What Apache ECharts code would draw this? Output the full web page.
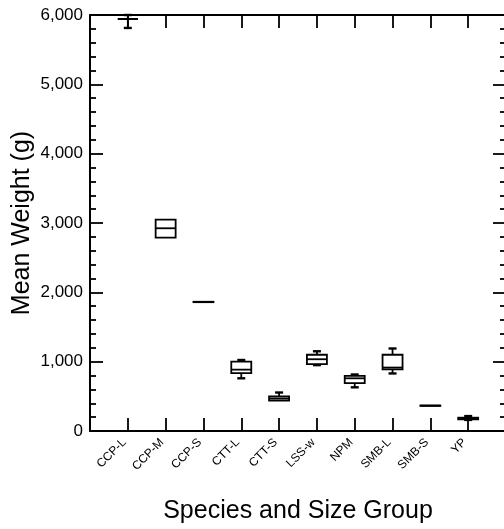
<!DOCTYPE html>
<html>
<head>
<meta charset="utf-8">
<script src="https://cdn.jsdelivr.net/npm/echarts@6/dist/echarts.min.js"></script>
<style>
html,body{margin:0;padding:0;background:#fff;}
#chart{width:504px;height:529px;}
</style>
</head>
<body>
<div id="chart"></div>
<script>
var categories = ['CCP-L','CCP-M','CCP-S','CTT-L','CTT-S','LSS-w','NPM','SMB-L','SMB-S','YP'];
var mins    = [5813, 2789, 1855,  760, 440,  950, 630,  830, 360, 160];
var q1s     = [5942, 2789, 1858,  835, 440,  965, 690,  890, 362, 168];
var medians = [5942, 2924, 1861,  885, 470, 1035, 760,  915, 365, 180];
var q3s     = [5942, 3048, 1864, 1000, 500, 1100, 795, 1100, 368, 192];
var maxs    = [6000, 3048, 1867, 1024, 555, 1150, 815, 1190, 370, 215];
var yTicks  = [0, 1000, 2000, 3000, 4000, 5000, 6000];

var data = categories.map(function (c, i) {
  return [i + 1, mins[i], q1s[i], medians[i], q3s[i], maxs[i]];
});

var FONT = 'Liberation Sans, Arial, sans-serif';
var BOX_W = 20, CAP_W = 8;

function renderItem(params, api) {
  var x = api.value(0);
  var pMin = api.coord([x, api.value(1)]);
  var pQ1 = api.coord([x, api.value(2)]);
  var pMed = api.coord([x, api.value(3)]);
  var pQ3 = api.coord([x, api.value(4)]);
  var pMax = api.coord([x, api.value(5)]);
  var cx = pMed[0];
  var st = {stroke: '#000', lineWidth: 1.8, fill: null};
  var children = [];
  children.push({type: 'rect', shape: {x: cx - BOX_W / 2, y: pQ3[1], width: BOX_W, height: pQ1[1] - pQ3[1]},
    style: {stroke: '#000', lineWidth: 1.8, fill: '#fff'}});
  children.push({type: 'line', shape: {x1: cx - BOX_W / 2, y1: pMed[1], x2: cx + BOX_W / 2, y2: pMed[1]}, style: st});
  if (pMax[1] < pQ3[1] - 0.5) {
    children.push({type: 'line', shape: {x1: cx, y1: pQ3[1], x2: cx, y2: pMax[1]}, style: st});
    children.push({type: 'line', shape: {x1: cx - CAP_W / 2, y1: pMax[1], x2: cx + CAP_W / 2, y2: pMax[1]}, style: {stroke: '#000', lineWidth: 2.4}});
  }
  if (pMin[1] > pQ1[1] + 0.5) {
    children.push({type: 'line', shape: {x1: cx, y1: pQ1[1], x2: cx, y2: pMin[1]}, style: st});
    children.push({type: 'line', shape: {x1: cx - CAP_W / 2, y1: pMin[1], x2: cx + CAP_W / 2, y2: pMin[1]}, style: {stroke: '#000', lineWidth: 2.4}});
  }
  return {type: 'group', children: children};
}

var axisLine = {show: true, onZero: false, lineStyle: {color: '#000', width: 2}};
var chart = echarts.init(document.getElementById('chart'), null, {renderer: 'canvas'});
chart.setOption({
  backgroundColor: '#fff',
  animation: false,
  grid: {left: 90, top: 15, width: 416, height: 416, containLabel: false, outerBoundsMode: 'none'},
  xAxis: [{
    type: 'value', min: 0, max: categories.length + 1, interval: 1,
    position: 'bottom',
    name: 'Species and Size Group', nameLocation: 'middle', nameGap: 68, nameMoveOverlap: false,
    nameTextStyle: {fontFamily: FONT, fontSize: 25, color: '#000'},
    axisLine: axisLine,
    axisTick: {show: true, inside: true, length: 13, lineStyle: {color: '#000', width: 1.8}},
    axisLabel: {rotate: 45, margin: 6, padding: [0, 5, 0, 0], fontFamily: FONT, fontSize: 12, color: '#000',
      formatter: function (v) { return categories[v - 1] || ''; }},
    splitLine: {show: false}
  }, {
    type: 'value', min: 0, max: categories.length + 1, interval: 1,
    position: 'top',
    axisLine: axisLine,
    axisTick: {show: true, inside: true, length: 13, lineStyle: {color: '#000', width: 1.8}},
    axisLabel: {show: false},
    splitLine: {show: false}
  }],
  yAxis: [{
    type: 'value', min: 0, max: 6000, interval: 1000,
    position: 'left',
    name: 'Mean Weight (g)', nameLocation: 'middle', nameGap: 55, nameMoveOverlap: false,
    nameTextStyle: {fontFamily: FONT, fontSize: 25, color: '#000'},
    axisLine: axisLine,
    axisTick: {show: true, inside: true, length: 13, lineStyle: {color: '#000', width: 1.8}},
    minorTick: {show: true, splitNumber: 5, length: 6, lineStyle: {color: '#000', width: 1.8}},
    axisLabel: {margin: 7, fontFamily: FONT, fontSize: 17, color: '#000',
      formatter: function (v) { return yTicks.indexOf(v) >= 0 ? v.toLocaleString('en-US') : ''; }},
    splitLine: {show: false}, minorSplitLine: {show: false}
  }, {
    type: 'value', min: 0, max: 6000, interval: 1000,
    position: 'right',
    axisLine: axisLine,
    axisTick: {show: true, inside: true, length: 13, lineStyle: {color: '#000', width: 1.8}},
    minorTick: {show: true, splitNumber: 5, length: 6, lineStyle: {color: '#000', width: 1.8}},
    axisLabel: {show: false},
    splitLine: {show: false}
  }],
  series: [{
    type: 'custom',
    xAxisIndex: 0, yAxisIndex: 0,
    renderItem: renderItem,
    encode: {x: 0, y: [1, 2, 3, 4, 5]},
    data: data,
    clip: false
  }]
});
</script>
</body>
</html>
